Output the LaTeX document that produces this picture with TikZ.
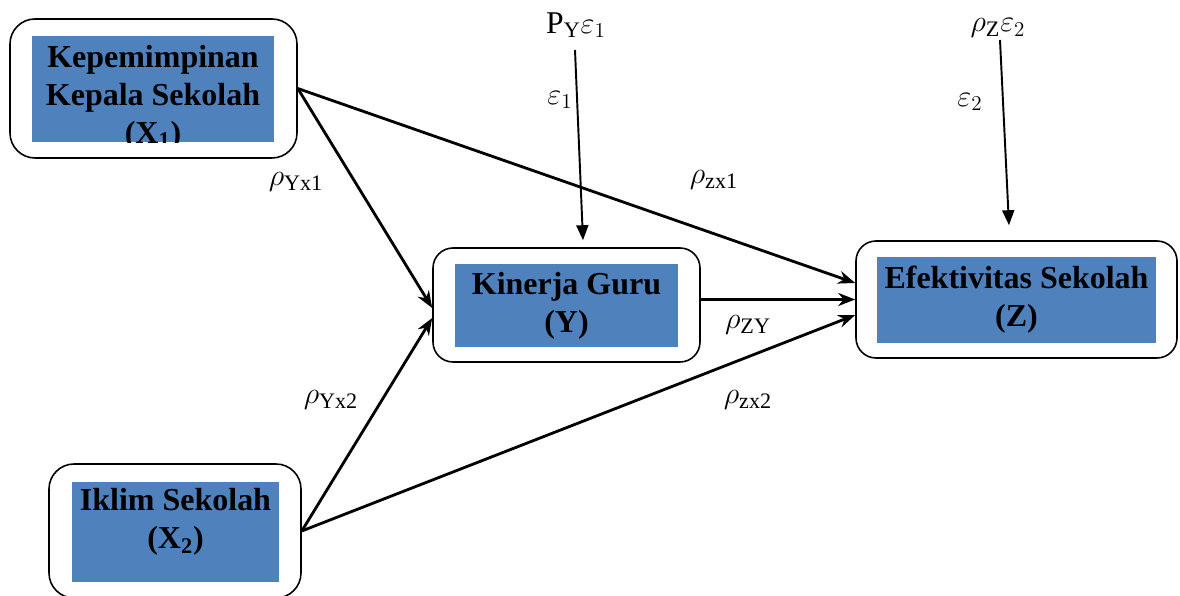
\documentclass[tikz,border=0pt]{standalone}
\usepackage{amsmath,amssymb}
\usepackage{fontspec}
\setmainfont{Liberation Serif}
\usetikzlibrary{arrows.meta,positioning,calc}
\definecolor{boxblue}{HTML}{4F81BD}
\definecolor{inkblack}{HTML}{000000}
\tikzset{
  roundbox/.style = {draw=inkblack, line width=0.9pt, rounded corners=5mm, fill=white},
  fillbox/.style  = {fill=boxblue, text=inkblack, align=center, inner sep=0pt,
                     font=\fontsize{18.2}{21.5}\selectfont\bfseries},
  coef/.style     = {inner sep=1pt, font=\fontsize{18}{20}\selectfont},
  flow/.style     = {-{Stealth[length=3.4mm,width=2.6mm]}, draw=inkblack, line width=1.6pt},
  errflow/.style  = {-{Triangle[length=3mm,width=2.4mm]}, draw=inkblack, line width=1.1pt},
}

\begin{document}
\begin{tikzpicture}[x=0.2mm,y=-0.2mm]
    \useasboundingbox (0,0) rectangle (1180,596);
    % outer rounded frames
    \node[roundbox,minimum width=57.4mm,minimum height=27.8mm] (x1) at (153.5,88.5) {};
    \node[roundbox,minimum width=50.4mm,minimum height=26.8mm] (x2) at (175,531) {};
    \node[roundbox,rounded corners=4mm,minimum width=53.4mm,minimum height=22.8mm] (y) at (566.5,305) {};
    \node[roundbox,rounded corners=4mm,minimum width=64.2mm,minimum height=23.4mm] (z) at (1016.5,299.5) {};
    % blue fills with the variable names
    \node[fillbox,minimum width=48.4mm,minimum height=21.2mm] (x1in) at (153,89) {};
    \begin{scope}
      \clip (x1in.south west) rectangle (x1in.north east);
      \node[fillbox,fill=none,anchor=north] (x1txt) at (153,45) {Kepemimpinan\\Kepala Sekolah\\(X$_{\mathbf{1}}$)};
    \end{scope}
    \node[fillbox,minimum width=41.4mm,minimum height=20mm] (x2in) at (175.5,532) {};
    \node[fillbox,fill=none] (x2txt) at (175.5,522) {Iklim Sekolah\\(X$_{\mathbf{2}}$)};
    \node[fillbox,minimum width=44.6mm,minimum height=16.6mm] (yin) at (566.5,305.5) {Kinerja Guru\\(Y)};
    \node[fillbox,minimum width=55.8mm,minimum height=17.2mm] (zin) at (1016.5,300) {Efektivitas Sekolah\\(Z)};
    % error terms
    \coordinate (e1) at (575,50);
    \coordinate (e2) at (1000,40);
    \node[coef] (pe1) at (576,25) {$\mathrm{P}_{\mathrm{Y}}\varepsilon_{1}$};
    \node[coef] (le1) at (560,100) {$\varepsilon_{1}$};
    \node[coef] (pe2) at (998,28) {$\rho_{\mathrm{Z}}\varepsilon_{2}$};
    \node[coef] (le2) at (970,102) {$\varepsilon_{2}$};
    % path coefficients
    \node[coef] (ryx1) at (296,182) {$\rho_{\mathrm{Yx1}}$};
    \node[coef] (rzx1) at (714,180) {$\rho_{\mathrm{zx1}}$};
    \node[coef] (rzy) at (748,325) {$\rho_{\mathrm{ZY}}$};
    \node[coef] (ryx2) at (331,400) {$\rho_{\mathrm{Yx2}}$};
    \node[coef] (rzx2) at (748,400) {$\rho_{\mathrm{zx2}}$};
    % arrows
    \draw[flow] (x1.east) -- ([yshift=3.3mm]z.west);
    \draw[flow] (x1.east) -- ([yshift=-0.6mm]y.west);
    \draw[flow] (x2.east) -- ([yshift=-2.6mm]y.west);
    \draw[flow] (x2.east) -- ([yshift=-3.1mm]z.west);
    \draw[flow] (y.east |- z.west) -- (z.west);
    \draw[errflow] (e1) -- ([xshift=3.3mm,yshift=1.4mm]y.north);
    \draw[errflow] (e2) -- ([xshift=-1.5mm,yshift=3mm]z.north);
  \end{tikzpicture}
\end{document}
